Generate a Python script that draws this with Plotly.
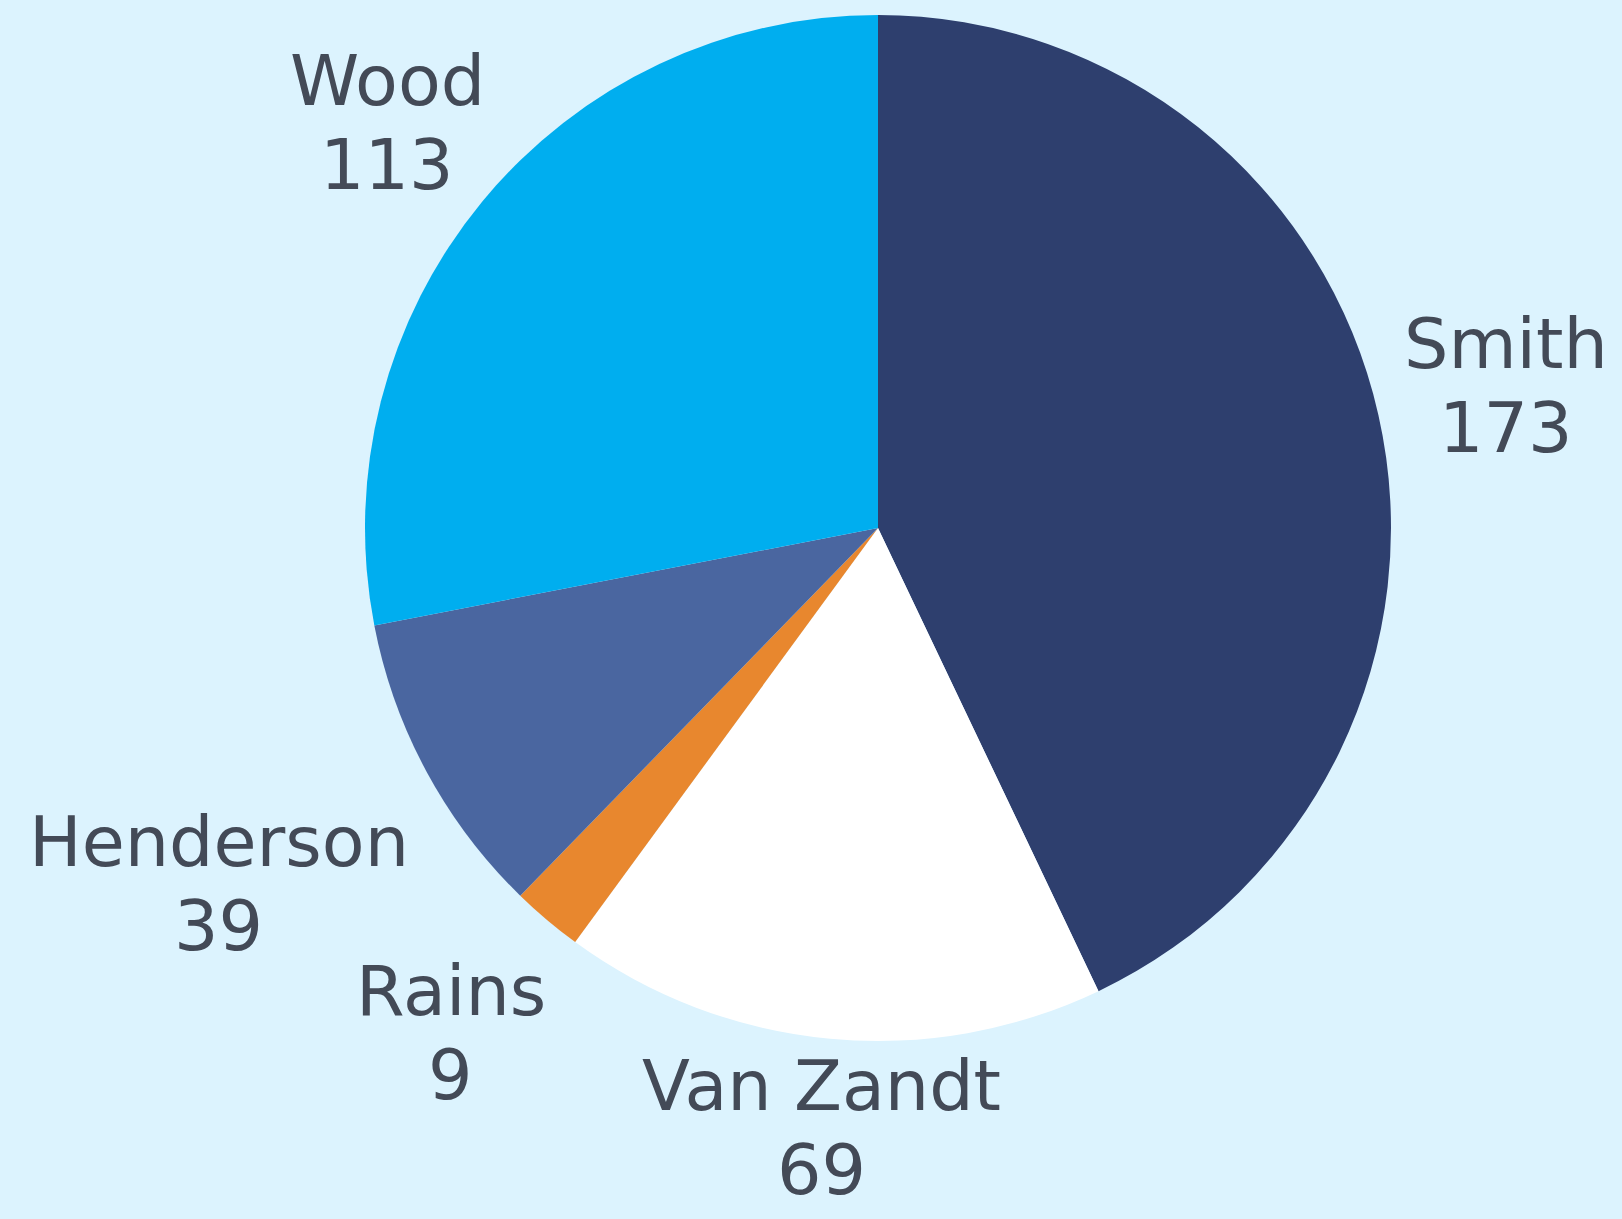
import math
import plotly.graph_objects as go

counties = ["Smith", "Van Zandt", "Rains", "Henderson", "Wood"]
counts = [173, 69, 9, 39, 113]
slice_colors = ["#2e3f6e", "#ffffff", "#e8872e", "#4a66a0", "#00aeef"]

# how far out each label sits, in pie radii (label centre)
label_dist = [1.256, 1.175, 1.29, 1.46, 1.24]

W, H = 1622, 1219
cx, cy, r = 878, 528, 513
line_gap = 42  # half the baseline distance between name and value

fig = go.Figure(go.Pie(
    labels=counties,
    values=counts,
    sort=False,
    direction="clockwise",
    rotation=0,
    marker=dict(colors=slice_colors, line=dict(width=0)),
    textinfo="none",
    domain=dict(x=[(cx - r) / W, (cx + r) / W], y=[1 - (cy + r) / H, 1 - (cy - r) / H]),
    hoverinfo="label+value",
))

# labels on the middle angle of each slice
total = sum(counts)
cum = 0
lab_font = dict(family="DejaVu Sans", size=70, color="#434a57")
for name, val, k in zip(counties, counts, label_dist):
    mid = (cum + val / 2) / total * 2 * math.pi
    cum += val
    px = cx + k * r * math.sin(mid)
    py = cy - k * r * math.cos(mid)
    for txt, shift in ((name, line_gap), (str(val), -line_gap)):
        fig.add_annotation(
            x=px / W, y=1 - py / H, xref="paper", yref="paper",
            text=txt, showarrow=False, yshift=shift,
            xanchor="center", yanchor="middle", borderpad=0,
            font=lab_font,
        )

fig.update_layout(
    width=W, height=H,
    margin=dict(l=0, r=0, t=0, b=0),
    paper_bgcolor="#dcf3fe",
    plot_bgcolor="#dcf3fe",
    showlegend=False,
)

fig.write_html("out.html", config={"displayModeBar": False},
               post_script="document.body.style.margin='0';document.body.style.background='#dcf3fe';")
